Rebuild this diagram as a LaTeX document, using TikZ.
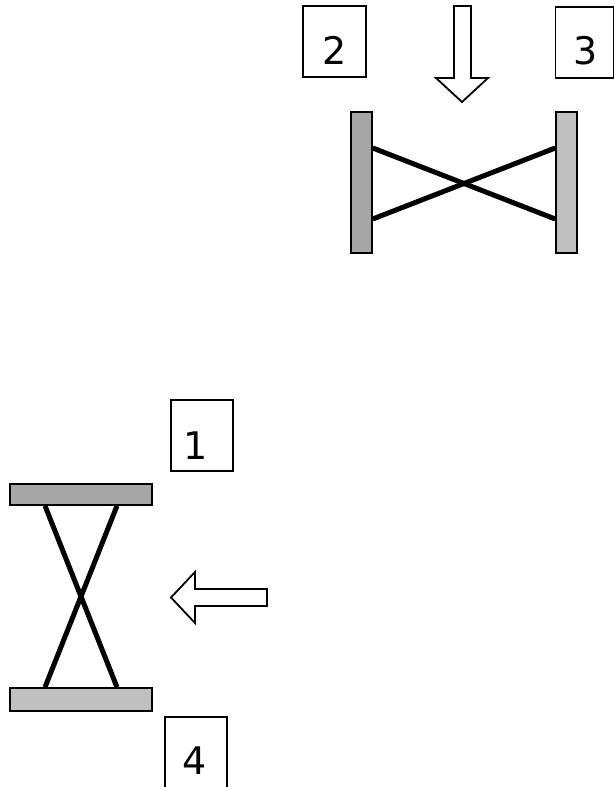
\documentclass[tikz,border=0pt]{standalone}
\usepackage{fontspec}
\setmainfont{DejaVu Sans}
\usetikzlibrary{calc,backgrounds}
\definecolor{darkbar}{RGB}{166,166,166}
\definecolor{lightbar}{RGB}{192,192,192}
\begin{document}
\begin{tikzpicture}[x=1pt,y=-1pt,
  numbox/.style={draw, line width=1.2pt, fill=white, inner sep=0pt},
  numtext/.style={font=\fontsize{38}{44}\selectfont, inner sep=0pt},
  bar/.style={draw, line width=1.6pt, inner sep=0pt},
  tie/.style={line width=5pt},
  blockarrow/.style={draw, line width=1.8pt, fill=white, line join=miter}]
\useasboundingbox (0,0) rectangle (614,787);

% number boxes
\node[numbox, minimum width=63pt, minimum height=71pt] (b2) at (334.5,41.5) {};
\node[numtext] (t2) at (335,50) {2};
\node[numbox, minimum width=58pt, minimum height=71pt] (b3) at (584.5,42.5) {};
\node[numtext] (t3) at (586,51) {3};
\node[numbox, minimum width=62pt, minimum height=71pt] (b1) at (202,435.5) {};
\node[numtext] (t1) at (196,446) {1};
\node[numbox, minimum width=62pt, minimum height=71pt] (b4) at (196,752.5) {};
\node[numtext] (t4) at (195,761) {4};

% top assembly
\node[bar, fill=darkbar, minimum width=21pt, minimum height=141pt] (lbar) at (361.5,182.5) {};
\node[bar, fill=lightbar, minimum width=21pt, minimum height=141pt] (rbar) at (566.5,182.5) {};
\begin{scope}[on background layer]
\draw[tie] ($(lbar.east)+(0,-34.5)$) -- ($(rbar.west)+(0,36.5)$);
\draw[tie] ($(lbar.east)+(0,36.5)$) -- ($(rbar.west)+(0,-34.5)$);
\end{scope}
\draw[blockarrow] (454,6) -- (471,6) -- (471,78) -- (488,78) -- (462,102) -- (436,78) -- (454,78) -- cycle;

% bottom assembly
\node[bar, fill=darkbar, minimum width=142pt, minimum height=21pt] (tbar) at (81,494.5) {};
\node[bar, fill=lightbar, minimum width=142pt, minimum height=23pt] (bbar) at (81,699.5) {};
\begin{scope}[on background layer]
\draw[tie] ($(tbar.south)+(-36,0)$) -- ($(bbar.north)+(36,0)$);
\draw[tie] ($(tbar.south)+(36,0)$) -- ($(bbar.north)+(-36,0)$);
\end{scope}
\draw[blockarrow] (267,589) -- (195,589) -- (195,572) -- (171,597.5) -- (195,623) -- (195,606) -- (267,606) -- cycle;
\end{tikzpicture}
\end{document}
